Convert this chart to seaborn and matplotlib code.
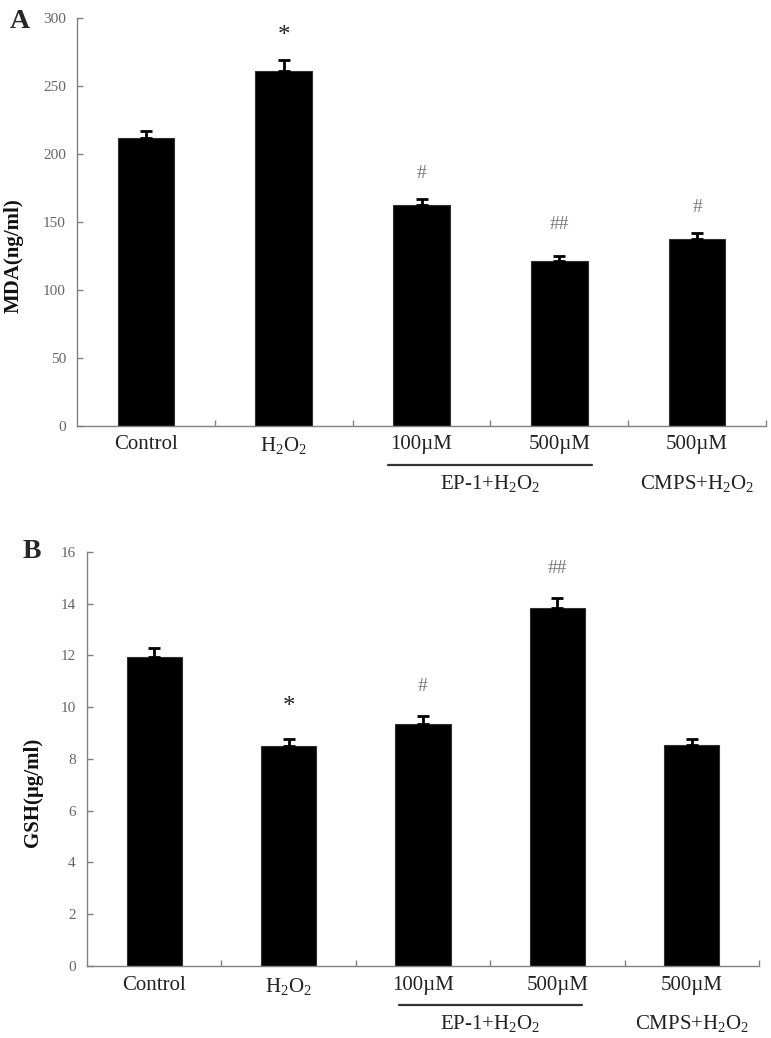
import numpy as np
import pandas as pd
import matplotlib
matplotlib.use("Agg")
import matplotlib.pyplot as plt
import matplotlib.transforms as mtransforms
import seaborn as sns

groups = ["Control", "H2O2", "EP-1 100uM", "EP-1 500uM", "CMPS 500uM"]
tick_labels = ["Control", "H$_2$O$_2$", "100\u00b5M", "500\u00b5M", "500\u00b5M"]

mda = [211.8, 261.5, 162.4, 121.0, 137.5]
mda_err = [5.4, 7.9, 4.4, 4.0, 4.2]
mda_marks = ["", "*", "#", "##", "#"]
mda_mark_y = [None, 287, 186, 148, 161]

gsh = [11.95, 8.50, 9.37, 13.84, 8.54]
gsh_err = [0.33, 0.26, 0.28, 0.39, 0.25]
gsh_marks = ["", "*", "#", "##", ""]
gsh_mark_y = [None, 10.0, 10.8, 15.35, None]

sns.set_style("white")
plt.rcParams["font.family"] = ["Liberation Serif", "DejaVu Serif"]
plt.rcParams["mathtext.fontset"] = "custom"
plt.rcParams["mathtext.rm"] = "Liberation Serif"
plt.rcParams["mathtext.it"] = "Liberation Serif:italic"
plt.rcParams["mathtext.bf"] = "Liberation Serif:bold"

grey = "#808080"

fig = plt.figure(figsize=(7.71, 10.38), dpi=100)
ax1 = fig.add_axes([0.0999, 0.5899, 0.8936, 0.3923])
ax2 = fig.add_axes([0.1128, 0.0694, 0.8716, 0.3988])


def panel(ax, values, errs, marks, mark_y, ymax, ystep, ylabel, letter,
          label_xy, letter_xy, line_half):
    df = pd.DataFrame({"group": groups, "value": values})
    sns.barplot(data=df, x="group", y="value", color="black", saturation=1,
                width=0.41, edgecolor="#303030", linewidth=0.8, ax=ax)
    x = np.arange(len(values))
    lower = np.zeros(len(errs))
    ax.errorbar(x, values, yerr=[lower, errs], fmt="none", ecolor="black",
                elinewidth=2, capsize=4, capthick=2, zorder=1)
    ax.set_xlim(-0.5, len(values) - 0.5)
    ax.set_ylim(0, ymax)
    ax.set_yticks(np.arange(0, ymax + ystep / 2, ystep))
    for s in ["top", "right"]:
        ax.spines[s].set_visible(False)
    for s in ["left", "bottom"]:
        ax.spines[s].set_color(grey)
        ax.spines[s].set_linewidth(1.0)
    ax.tick_params(axis="y", direction="in", length=4, width=1, color=grey,
                   labelsize=11, labelcolor="#666666", pad=8, left=True)
    # category boundaries get the tick marks, labels sit at bar centres
    ax.set_xticks(x)
    ax.set_xticklabels(tick_labels, fontsize=15, color="#222222")
    ax.tick_params(axis="x", length=0, pad=7)
    ax.set_xticks(np.arange(0.5, len(values) + 0.5, 1.0), minor=True)
    ax.tick_params(axis="x", which="minor", direction="in", length=4,
                   width=1, color=grey, bottom=True)
    ax.set_xlabel("")
    ax.set_ylabel(ylabel, fontsize=15, fontweight="bold", color="#111111")
    ax.yaxis.set_label_coords(*label_xy)

    # second row of group labels and the EP-1 underline
    trans = mtransforms.blended_transform_factory(ax.transData, ax.transAxes)
    h = ax.bbox.height
    ax.plot([2 - line_half, 3 + line_half], [-39 / h, -39 / h], color="#333333",
            lw=1.6, transform=trans, clip_on=False)
    ax.text(2.5, -58 / h, "EP-1+H$_2$O$_2$", fontsize=15, ha="center",
            va="center", color="#222222", transform=trans)
    ax.text(4, -58 / h, "CMPS+H$_2$O$_2$", fontsize=15, ha="center",
            va="center", color="#222222", transform=trans)

    for i, m in enumerate(marks):
        if not m:
            continue
        if m == "*":
            ax.text(i, mark_y[i], m, fontsize=18, ha="center", va="center",
                    color="#222222")
        else:
            ax.text(i, mark_y[i], m, fontsize=14, ha="center", va="center",
                    color="#777777")

    fig.text(letter_xy[0], letter_xy[1], letter, fontsize=20,
             fontweight="bold", ha="center", va="center")


panel(ax1, mda, mda_err, mda_marks, mda_mark_y, 300, 50, "MDA(ng/ml)", "A",
      (-0.077, 0.417), (20 / 771, 1 - 22 / 1038), 0.24)
panel(ax2, gsh, gsh_err, gsh_marks, gsh_mark_y, 16, 2,
      "GSH(\u00b5g/ml)", "B", (-0.066, 0.42), (32 / 771, 1 - 552 / 1038), 0.18)

fig.savefig("out.png", dpi=100)
